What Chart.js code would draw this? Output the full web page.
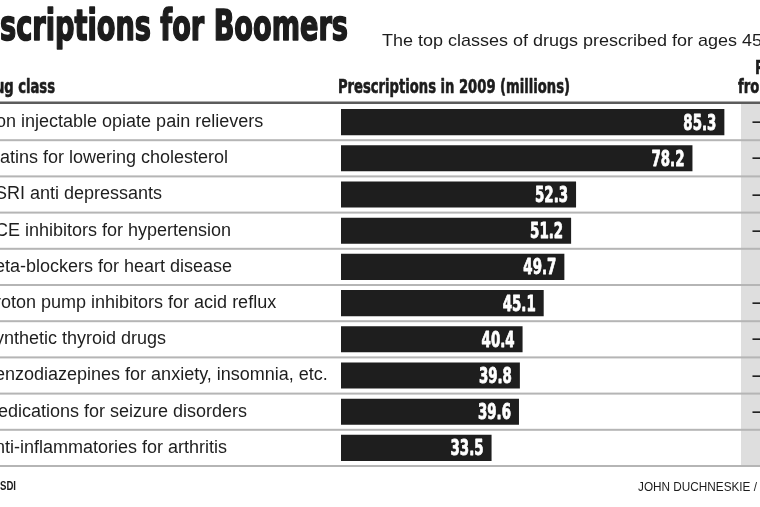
<!DOCTYPE html>
<html><head><meta charset="utf-8">
<script src="https://cdn.jsdelivr.net/npm/chart.js@4.4.1/dist/chart.umd.min.js"></script>
<style>
html,body{margin:0;padding:0;background:#fff;overflow:hidden;width:760px;height:507px;}
#wrap{position:absolute;left:-17px;top:0;width:777px;height:507px;}
canvas{display:block;}
</style></head><body>
<div id="wrap"><canvas id="c" width="777" height="507"></canvas></div>
<script>
// ---- data ----
const categories = [
  'Non injectable opiate pain relievers',
  'Statins for lowering cholesterol',
  'SSRI anti depressants',
  'ACE inhibitors for hypertension',
  'Beta-blockers for heart disease',
  'Proton pump inhibitors for acid reflux',
  'Synthetic thyroid drugs',
  'Benzodiazepines for anxiety, insomnia, etc.',
  'Medications for seizure disorders',
  'Anti-inflammatories for arthritis'
];
const prescriptions = [85.3, 78.2, 52.3, 51.2, 49.7, 45.1, 40.4, 39.8, 39.6, 33.5];
const changeLabels = ['–', '–', '–', '–', '', '–', '–', '–', '–', ''];
const titleText = 'Prescriptions for Boomers';
const subtitleText = 'The top classes of drugs prescribed for ages 45 to 64';
const headerLabels = ['Drug class', 'Prescriptions in 2009 (millions)'];
const changeHeader = ['Percent change', 'from 2008'];
const sourceText = 'SOURCE: SDI';
const creditText = 'JOHN DUCHNESKIE / Staff Artist';

// ---- drawing ----
const OX = 17; // canvas is shifted 17px left of the page
const NARROW_BOLD = '"Liberation Sans Narrow", "DejaVu Sans Condensed", "Liberation Sans", sans-serif';
const SANS = '"Liberation Sans", Arial, sans-serif';

function measure(ctx, s, font){ ctx.save(); ctx.font = font; const w = ctx.measureText(s).width; ctx.restore(); return w; }
function txt(ctx, s, x, y, font, sx, align, color, stroke){
  ctx.save();
  ctx.font = font; ctx.fillStyle = color; ctx.textAlign = align; ctx.textBaseline = 'alphabetic';
  ctx.translate(x + OX, y); ctx.scale(sx, 1);
  if (stroke){ ctx.strokeStyle = color; ctx.lineWidth = stroke; ctx.lineJoin = 'round'; ctx.strokeText(s, 0, 0); }
  ctx.fillText(s, 0, 0);
  ctx.restore();
}

const deco = {
  id: 'deco',
  beforeDraw(chart){
    const {ctx, chartArea: a, scales: {y}} = chart;
    const step = (a.bottom - a.top) / categories.length;
    ctx.save();
    ctx.fillStyle = '#dedede';
    ctx.fillRect(a.right, a.top, chart.width - a.right, a.bottom - a.top);
    ctx.fillStyle = '#b5b5b5';
    for (let i = 0; i < categories.length; i++){
      const yy = y.getPixelForValue(i) + step / 2;
      ctx.fillRect(0, yy - 1, chart.width, 2);
    }
    ctx.fillStyle = '#5c5c5c';
    ctx.fillRect(0, a.top - 2.5, chart.width, 2.5);
    ctx.restore();
  },
  afterDatasetsDraw(chart){
    const {ctx, chartArea: a} = chart;
    const meta = chart.getDatasetMeta(0);
    const vfont = 'bold 21px ' + NARROW_BOLD;
    const vsx = 33 / measure(ctx, '85.3', vfont);
    meta.data.forEach((bar, i) => {
      txt(ctx, prescriptions[i].toFixed(1), bar.x - 8 - OX, bar.y + 7.5, vfont, vsx, 'right', '#ffffff', 0.8);
      if (changeLabels[i]) txt(ctx, changeLabels[i], a.right - OX + 11, bar.y + 5, 'bold 16px ' + SANS, 1, 'left', '#222');
    });
  },
  afterDraw(chart){
    const ctx = chart.ctx;
    // title
    const tfont = 'bold 42px ' + NARROW_BOLD;
    const tsx = 348 / measure(ctx, 'scriptions for Boomers', tfont);
    txt(ctx, titleText, 348, 40, tfont, tsx, 'right', '#1c1c1c', 1.6);
    // subtitle
    const sfont = '17px ' + SANS;
    const ssx = 355 / measure(ctx, 'The top classes of drugs prescribed for ages', sfont);
    txt(ctx, subtitleText, 382, 46, sfont, ssx, 'left', '#1c1c1c');
    // column headers
    const hfont = 'bold 20px ' + NARROW_BOLD;
    const hsx = 232 / measure(ctx, headerLabels[1], hfont);
    txt(ctx, headerLabels[0], 55, 93, hfont, hsx, 'right', '#1c1c1c', 0.6);
    txt(ctx, headerLabels[1], 338, 93, hfont, hsx, 'left', '#1c1c1c', 0.6);
    txt(ctx, changeHeader[0], 755, 74, hfont, hsx, 'left', '#1c1c1c', 0.6);
    txt(ctx, changeHeader[1], 738, 93, hfont, hsx, 'left', '#1c1c1c', 0.6);
    // footer
    const ffont = 'bold 12px ' + SANS;
    const fsx = 16 / measure(ctx, 'SDI', ffont);
    txt(ctx, sourceText, 16, 490, ffont, fsx, 'right', '#1c1c1c');
    const cfont = '13px ' + SANS;
    const csx = 119 / measure(ctx, 'JOHN DUCHNESKIE /', cfont);
    txt(ctx, creditText, 638, 491, cfont, csx, 'left', '#1c1c1c');
  }
};

Chart.defaults.font.family = SANS;
new Chart(document.getElementById('c'), {
  type: 'bar',
  data: {
    labels: categories,
    datasets: [{
      data: prescriptions,
      backgroundColor: '#1e1e1e',
      borderWidth: 0,
      barPercentage: 0.72,
      categoryPercentage: 1
    }]
  },
  options: {
    indexAxis: 'y',
    responsive: false,
    animation: false,
    devicePixelRatio: 1,
    layout: { padding: { left: 0, right: 19, top: 104, bottom: 41 } },
    plugins: { legend: { display: false }, tooltip: { enabled: false } },
    scales: {
      x: { display: false, min: 0, max: 89 },
      y: {
        position: 'left',
        grid: { display: false },
        border: { display: false },
        ticks: { crossAlign: 'far', padding: 0, autoSkip: false, color: '#1e1e1e', font: { family: SANS, size: 18 } },
        afterFit(s){ s.width = 358; }
      }
    }
  },
  plugins: [deco]
});
</script>
</body></html>
